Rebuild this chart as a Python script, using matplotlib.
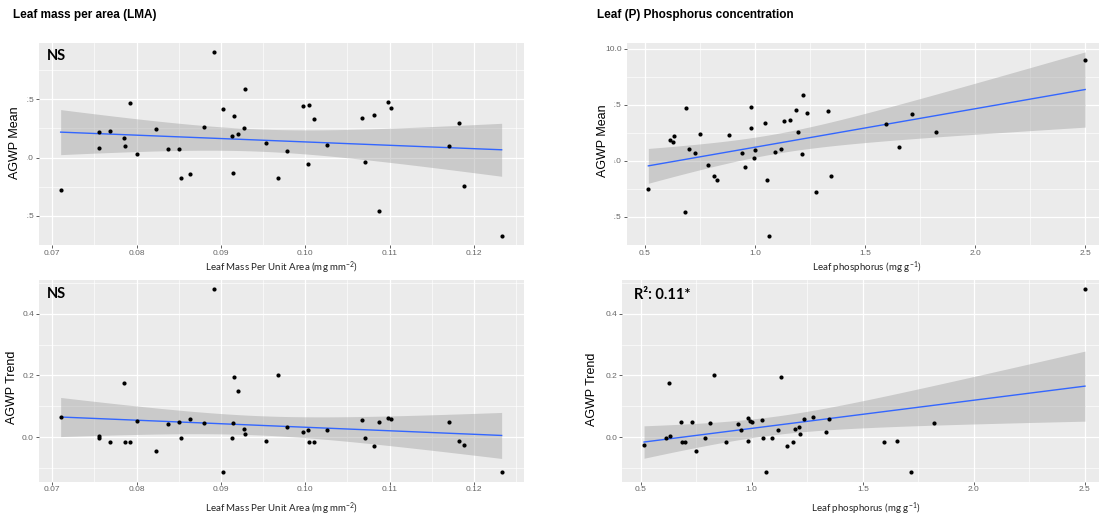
import numpy as np
import matplotlib
matplotlib.use("Agg")
import matplotlib.pyplot as plt
from matplotlib.ticker import MultipleLocator, AutoMinorLocator, FormatStrFormatter
from matplotlib.patches import Rectangle

# One entry per site (ordered by leaf mass per area)
lma = [0.0710, 0.0755, 0.0756, 0.0768, 0.0785, 0.0786, 0.0792, 0.0800, 0.0823, 0.0837,
       0.0850, 0.0853, 0.0863, 0.0880, 0.0892, 0.0902, 0.0913, 0.0914, 0.0915, 0.0920,
       0.0928, 0.0929, 0.0953, 0.0968, 0.0978, 0.0998, 0.1003, 0.1004, 0.1011, 0.1026,
       0.1067, 0.1071, 0.1082, 0.1087, 0.1098, 0.1102, 0.1171, 0.1182, 0.1188, 0.1233]
phosphorus = [1.276, 0.633, 1.090, 0.882, 0.628, 0.700, 0.687, 0.993, 0.748, 0.940,
              0.729, 1.052, 1.347, 1.822, 2.500, 1.715, 0.612, 0.812, 1.130, np.nan,
              1.194, 1.216, 1.655, 0.828, 1.212, 1.332, 0.952, 1.185, 1.595, 1.116,
              1.046, 0.788, 1.160, 0.682, 0.982, 1.234, 1.000, 0.982, 0.515, 1.062]
agwp_mean = [3.59, 6.10, 5.41, 6.15, 5.83, 5.51, 7.34, 5.13, 6.20, 5.36,
             5.36, 4.13, 4.30, 6.30, 9.52, 7.07, 5.94, 4.33, 6.78, 6.00,
             6.28, 7.95, 5.63, 4.13, 5.30, 7.22, 4.72, 7.25, 6.65, 5.53,
             6.70, 4.80, 6.81, 2.71, 7.39, 7.12, 5.48, 6.47, 3.76, 1.65]
agwp_trend = [0.066, 0.003, -0.002, -0.015, 0.175, -0.015, -0.015, 0.053, -0.043, 0.044,
              0.051, -0.002, 0.060, 0.045, 0.479, -0.113, -0.002, 0.047, 0.195, 0.150,
              0.028, 0.012, -0.013, 0.201, 0.035, 0.017, 0.025, -0.016, -0.015, 0.024,
              0.055, -0.001, -0.029, 0.051, 0.063, 0.061, 0.050, -0.013, -0.024, -0.111]

titles = ["Leaf mass per area (LMA)", "Leaf (P) Phosphorus concentration"]
xlabels = ["Leaf Mass Per Unit Area (mg mm$^{-2}$)", "Leaf phosphorus (mg g$^{-1}$)"]
ylabels = ["AGWP Mean", "AGWP Trend"]
annotations = [["NS", ""], ["NS", "R\u00b2: 0.11*"]]

W, H = 1099, 522
fig = plt.figure(figsize=(W / 100, H / 100), dpi=100)
fig.patch.set_facecolor("white")
plt.rcParams["mathtext.default"] = "regular"

PANEL_BG = "#EBEBEB"
RIBBON = "#999999"
LINE = "#3366FF"
TXT_FONT = "Liberation Sans"
CAP_FONT = "Lato"


def px_box(x0, y0, x1, y1):
    """Axes rectangle from pixel edges (y measured from the top)."""
    return [x0 / W, 1 - y1 / H, (x1 - x0) / W, (y1 - y0) / H]


def lm_band(x, y, n=80):
    x = np.asarray(x, float)
    y = np.asarray(y, float)
    ok = ~(np.isnan(x) | np.isnan(y))
    x, y = x[ok], y[ok]
    m = len(x)
    X = np.column_stack([np.ones(m), x])
    beta, *_ = np.linalg.lstsq(X, y, rcond=None)
    resid = y - X @ beta
    df = m - 2
    s2 = resid @ resid / df
    xs = np.linspace(x.min(), x.max(), n)
    xm = x.mean()
    sxx = ((x - xm) ** 2).sum()
    se = np.sqrt(s2 * (1.0 / m + (xs - xm) ** 2 / sxx))
    z = 1.959964
    t = z + (z ** 3 + z) / (4 * df) + (5 * z ** 5 + 16 * z ** 3 + 3 * z) / (96 * df ** 2)
    fit = beta[0] + beta[1] * xs
    return xs, fit, fit - t * se, fit + t * se


def style(ax, xstep, xfmt, ystep, yfmt):
    ax.set_facecolor(PANEL_BG)
    for s in ax.spines.values():
        s.set_visible(False)
    ax.xaxis.set_major_locator(MultipleLocator(xstep))
    ax.yaxis.set_major_locator(MultipleLocator(ystep))
    ax.xaxis.set_minor_locator(AutoMinorLocator(2))
    ax.yaxis.set_minor_locator(AutoMinorLocator(2))
    ax.xaxis.set_major_formatter(FormatStrFormatter(xfmt))
    ax.yaxis.set_major_formatter(FormatStrFormatter(yfmt))
    ax.grid(which="major", color="white", lw=0.9)
    ax.grid(which="minor", color="white", lw=0.45)
    ax.set_axisbelow(True)
    ax.tick_params(which="major", length=2.2, width=0.6, color="#444444",
                   labelsize=6, labelcolor="#666666", pad=1.2)
    ax.tick_params(which="minor", length=0)
    for lab in ax.get_xticklabels() + ax.get_yticklabels():
        lab.set_fontfamily(TXT_FONT)


def panel(rect, x, y, xstep, xfmt, ystep, yfmt):
    ax = fig.add_axes(px_box(*rect))
    xs, fit, lo, hi = lm_band(x, y)
    ax.fill_between(xs, lo, hi, color=RIBBON, alpha=0.4, lw=0, zorder=2)
    ax.plot(xs, fit, color=LINE, lw=1.0, zorder=3)
    ax.scatter(x, y, s=9, color="black", lw=0, zorder=4)
    style(ax, xstep, xfmt, ystep, yfmt)
    return ax


ax_tl = panel((38.6, 42.7, 523.7, 245), lma, agwp_mean, 0.01, "%.2f", 2.5, "%.1f")
ax_bl = panel((38.6, 280, 523.7, 481.5), lma, agwp_trend, 0.01, "%.2f", 0.2, "%.1f")
ax_tr = panel((626.5, 42.7, 1107, 245), phosphorus, agwp_mean, 0.5, "%.1f", 2.5, "%.1f")
ax_br = panel((622, 280, 1107, 481.5), phosphorus, agwp_trend, 0.5, "%.1f", 0.2, "%.1f")

# Column titles
fig.text(13.3 / W, 1 - 15 / H, titles[0], fontsize=8.5, fontweight="bold",
         family=TXT_FONT, ha="left", va="center")
fig.text(596.6 / W, 1 - 15 / H, titles[1], fontsize=8.5, fontweight="bold",
         family=TXT_FONT, ha="left", va="center")

# x-axis labels
for cx, cy, lab in [(281, 268, xlabels[0]), (281, 509, xlabels[0]),
                    (867, 268, xlabels[1]), (866, 509, xlabels[1])]:
    fig.text(cx / W, 1 - cy / H, lab, fontsize=7, family=CAP_FONT,
             ha="center", va="center", color="#222222")

# White strips left of the top panels, under the y-axis titles
for x0, x1 in [(0, 27.0), (545, 613.5)]:
    fig.add_artist(Rectangle((x0 / W, 1 - 225 / H), (x1 - x0) / W, 135 / H,
                             transform=fig.transFigure, facecolor="white",
                             edgecolor="none", zorder=1))

# y-axis titles
for cx, cy, lab in [(15, 143, ylabels[0]), (602.5, 141, ylabels[0]),
                    (12, 387, ylabels[1]), (592, 389, ylabels[1])]:
    fig.text(cx / W, 1 - cy / H, lab, fontsize=9, family=TXT_FONT, rotation=90,
             ha="center", va="center", zorder=2)

# Significance notes
for lx, ly, lab in [(47, 56, annotations[0][0]), (47, 294, annotations[1][0]),
                    (634, 295, annotations[1][1])]:
    fig.text(lx / W, 1 - ly / H, lab, fontsize=10.5, fontweight="bold",
             family=CAP_FONT, ha="left", va="center", zorder=2)

fig.savefig("out.png", dpi=100, facecolor="white")
